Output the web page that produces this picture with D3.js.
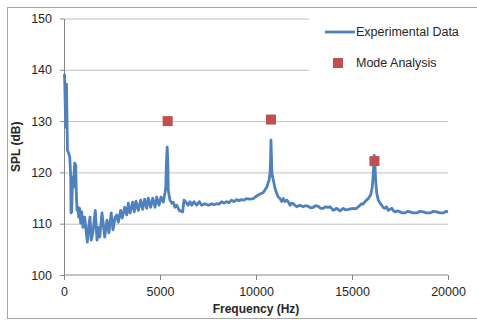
<!DOCTYPE html>
<html>
<head>
<meta charset="utf-8">
<script src="https://cdn.jsdelivr.net/npm/d3@7"></script>
<style>
  body { margin: 0; background: #fff; }
  svg text { font-family: "Liberation Sans", Arial, sans-serif; fill: #262626; }
  .axis path, .axis line { stroke: #868686; }
  .gridlines line { stroke: #c0c0c0; }
  .gridlines path { display: none; }
</style>
</head>
<body>
<svg id="chart" width="477" height="320"></svg>
<script>
const expFreq = [10, 30, 90, 130, 180, 230, 300, 350, 365, 400, 450, 485, 555, 610, 640, 680, 730, 765, 820, 870,
    920, 990, 1080, 1160, 1215, 1285, 1355, 1420, 1510, 1630, 1720, 1770, 1860, 1980, 2120, 2240, 2340, 2460, 2550, 2670,
    2745, 2830, 2950, 3035, 3160, 3265, 3350, 3440, 3580, 3660, 3750, 3870, 3995, 4100, 4200, 4310, 4390, 4515, 4620, 4740,
    4830, 4950, 5050, 5170, 5260, 5300, 5340, 5375, 5405, 5430, 5520, 5610, 5690, 5780, 5870, 6000, 6180, 6250, 6390, 6460,
    6560, 6650, 6770, 6910, 7050, 7170, 7340, 7520, 7690, 7810, 7950, 8070, 8210, 8330, 8470, 8590, 8730, 8850, 8990, 9110,
    9250, 9370, 9510, 9690, 9860, 10040, 10210, 10380, 10560, 10680, 10730, 10760, 10780, 10810, 10830, 10900, 10990, 11080, 11160, 11250,
    11340, 11420, 11510, 11600, 11680, 11770, 11860, 11940, 12120, 12290, 12460, 12580, 12720, 12840, 12980, 13100, 13240, 13360, 13500, 13620,
    13760, 13850, 14030, 14200, 14370, 14550, 14660, 14810, 14920, 15070, 15180, 15330, 15500, 15570, 15680, 15850, 15970, 16060, 16110, 16140,
    16160, 16190, 16230, 16290, 16370, 16460, 16550, 16640, 16720, 16800, 16890, 17070, 17160, 17240, 17370, 17500, 17630, 17760, 17890, 18020,
    18180, 18370, 18540, 18710, 18880, 19060, 19240, 19410, 19580, 19750, 19890, 20000];
const expSpl = [138.5, 139.0, 128.8, 137.2, 124.3, 123.9, 123.0, 119.1, 112.1, 112.3, 119.1, 117.1, 121.8, 121.4, 116.0, 112.6, 113.2, 111.3, 113.0, 110.1,
    112.3, 109.3, 111.3, 108.2, 106.4, 109.3, 111.3, 106.8, 108.4, 112.6, 106.8, 109.3, 107.4, 112.1, 107.4, 110.7, 108.2, 112.1, 108.8, 111.3,
    111.7, 110.3, 112.6, 111.1, 113.2, 111.7, 114.0, 112.1, 114.2, 112.3, 114.4, 112.6, 114.6, 112.8, 114.8, 113.0, 115.0, 113.2, 115.0, 113.2,
    115.2, 113.6, 115.2, 114.2, 116.0, 117.1, 122.4, 124.9, 122.4, 116.5, 114.6, 114.0, 114.2, 113.2, 113.6, 112.6, 112.3, 114.6, 114.0, 113.6,
    114.3, 113.6, 114.3, 113.6, 114.3, 113.6, 113.9, 113.6, 113.9, 113.7, 113.9, 113.8, 114.3, 114.0, 114.3, 114.1, 114.6, 114.3, 114.7, 114.5,
    114.7, 114.6, 114.9, 114.8, 114.9, 115.4, 115.8, 116.1, 117.1, 118.5, 119.8, 122.4, 126.3, 122.4, 119.8, 118.5, 116.9, 115.9, 115.2, 114.9,
    114.3, 114.9, 114.3, 114.6, 114.3, 113.6, 114.0, 113.9, 113.3, 113.6, 113.3, 113.5, 113.4, 113.1, 113.2, 113.5, 113.4, 113.0, 113.0, 113.3,
    113.2, 113.3, 112.6, 113.0, 112.5, 113.0, 112.7, 112.8, 112.9, 113.0, 112.9, 113.3, 113.9, 113.8, 114.3, 114.9, 115.6, 117.2, 119.8, 122.4,
    123.3, 122.0, 118.5, 115.9, 114.6, 114.0, 113.6, 113.1, 113.0, 113.3, 112.6, 113.0, 112.5, 112.3, 112.5, 112.3, 112.1, 112.1, 112.4, 112.3,
    112.1, 112.1, 112.4, 112.3, 112.1, 112.1, 112.4, 112.3, 112.1, 112.1, 112.4, 112.3];

// mode analysis predictions
const modeFreq = [5400, 10780, 16170];
const modeSpl = [130.0, 130.3, 122.2];

const xTicks = [0, 5000, 10000, 15000, 20000];
const yTicks = [100, 110, 120, 130, 140, 150];
const legendLabels = ["Experimental Data", "Mode Analysis"];

const svg = d3.select("svg#chart");
const margin = { top: 18.5, right: 29, bottom: 45, left: 64 };
const width = +svg.attr("width");
const height = +svg.attr("height");
const chartWidth = width - margin.left - margin.right;
const chartHeight = height - margin.top - margin.bottom;

// outer frame
svg.append("rect")
    .attr("x", 7.5).attr("y", 7.5)
    .attr("width", 480).attr("height", 311)
    .attr("fill", "none")
    .attr("stroke", "#a6a6a6");

const freqScale = d3.scaleLinear().domain([0, 20000]).range([0, chartWidth]);
const splScale = d3.scaleLinear().domain([100, 150]).range([chartHeight, 0]);

const chartArea = svg.append("g").attr("transform", `translate(${margin.left},${margin.top})`);

// gridlines
chartArea.append("g")
    .attr("class", "gridlines")
    .call(d3.axisLeft(splScale).tickValues(yTicks.slice(1)).tickSize(-chartWidth).tickFormat(""));

// axes
const leftAxis = chartArea.append("g")
    .attr("class", "y axis")
    .call(d3.axisLeft(splScale).tickValues(yTicks).tickSizeInner(4).tickSizeOuter(0).tickPadding(8));
leftAxis.selectAll("text").style("font-size", "12.5px");

const bottomAxis = chartArea.append("g")
    .attr("class", "x axis")
    .attr("transform", `translate(0,${chartHeight})`)
    .call(d3.axisBottom(freqScale).tickValues(xTicks).tickFormat(d3.format("d"))
        .tickSizeInner(5).tickSizeOuter(0).tickPadding(7));
bottomAxis.selectAll("text").style("font-size", "12.5px");
bottomAxis.select("path.domain").remove();
bottomAxis.append("line")
    .attr("x1", 0).attr("x2", chartWidth)
    .attr("stroke", "#868686");

// legend background hides the top gridlines
const legend = svg.append("g").attr("class", "legend");
legend.append("rect")
    .attr("x", 309).attr("y", 14)
    .attr("width", 165).attr("height", 66)
    .attr("fill", "#fff");

// experimental line
const line = d3.line()
    .x((d, i) => freqScale(expFreq[i]))
    .y(d => splScale(d));
chartArea.append("path")
    .datum(expSpl)
    .attr("fill", "none")
    .attr("stroke", "#4f81bd")
    .attr("stroke-width", 2.8)
    .attr("stroke-linejoin", "round")
    .attr("d", line);

// mode analysis markers
chartArea.selectAll("rect.mode")
    .data(modeSpl)
    .join("rect")
    .attr("class", "mode")
    .attr("x", (d, i) => freqScale(modeFreq[i]) - 5)
    .attr("y", d => splScale(d) - 5)
    .attr("width", 10)
    .attr("height", 10)
    .attr("fill", "#c0504d");

// legend entries
legend.append("line")
    .attr("x1", 325).attr("x2", 355)
    .attr("y1", 32).attr("y2", 32)
    .attr("stroke", "#4f81bd")
    .attr("stroke-width", 2.8);
legend.append("rect")
    .attr("x", 333).attr("y", 58)
    .attr("width", 10).attr("height", 10)
    .attr("fill", "#c0504d");
legend.selectAll("text")
    .data(legendLabels)
    .join("text")
    .attr("x", 356)
    .attr("y", (d, i) => 33 + i * 31)
    .attr("dominant-baseline", "middle")
    .style("font-size", "12.5px")
    .text(d => d);

// axis titles
svg.append("text")
    .attr("x", margin.left + chartWidth / 2)
    .attr("y", 310)
    .attr("text-anchor", "middle")
    .attr("dominant-baseline", "middle")
    .style("font-size", "12px")
    .style("font-weight", "bold")
    .text("Frequency (Hz)");
svg.append("text")
    .attr("transform", `translate(17,${margin.top + chartHeight / 2}) rotate(-90)`)
    .attr("text-anchor", "middle")
    .attr("dominant-baseline", "middle")
    .style("font-size", "12px")
    .style("font-weight", "bold")
    .text("SPL (dB)");
</script>
</body>
</html>
